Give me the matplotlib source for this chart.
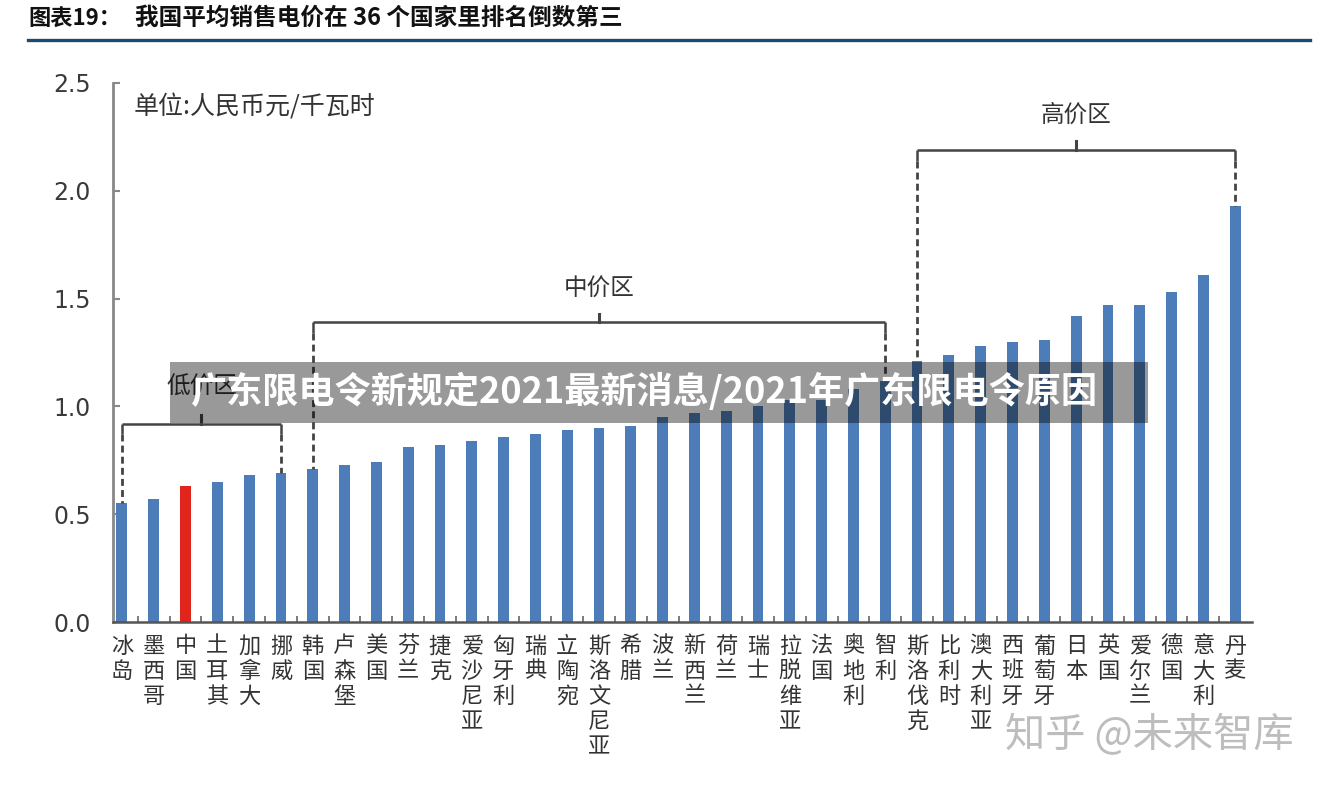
#!/usr/bin/env python3
"""Average electricity price across 36 countries, China third from bottom."""

import matplotlib

matplotlib.use("Agg")
import matplotlib.pyplot as plt
from matplotlib.lines import Line2D
from matplotlib.patches import Rectangle

COUNTRIES = [
    "冰岛", "墨西哥", "中国", "土耳其", "加拿大", "挪威", "韩国", "卢森堡", "美国",
    "芬兰", "捷克", "爱沙尼亚", "匈牙利", "瑞典", "立陶宛", "斯洛文尼亚", "希腊", "波兰",
    "新西兰", "荷兰", "瑞士", "拉脱维亚", "法国", "奥地利", "智利", "斯洛伐克", "比利时",
    "澳大利亚", "西班牙", "葡萄牙", "日本", "英国", "爱尔兰", "德国", "意大利", "丹麦",
]
PRICES = [
    0.55, 0.57, 0.63, 0.65, 0.68, 0.69, 0.71, 0.73, 0.74,
    0.81, 0.82, 0.84, 0.86, 0.87, 0.89, 0.90, 0.91, 0.95,
    0.97, 0.98, 1.00, 1.03, 1.03, 1.08, 1.12, 1.21, 1.24,
    1.28, 1.30, 1.31, 1.42, 1.47, 1.47, 1.53, 1.61, 1.93,
]
HIGHLIGHT = "中国"

# price bands: (label, first bar, last bar, bracket height, label height)
BANDS = [
    ("低价区", 0, 5, 0.92, 1.09),
    ("中价区", 6, 24, 1.39, 1.55),
    ("高价区", 25, 35, 2.19, 2.35),
]
Y_TICKS = [0.0, 0.5, 1.0, 1.5, 2.0, 2.5]

TITLE_NO = "图表19："
TITLE = "我国平均销售电价在 36 个国家里排名倒数第三"
UNIT = "单位:人民币元/千瓦时"
BANNER = "广东限电令新规定2021最新消息/2021年广东限电令原因"
WATERMARK = "知乎 @未来智库"

BLUE = "#4d7db8"
RED = "#e0261c"
INK = "#444444"

W, H = 1321, 786

plt.rcParams["font.family"] = ["Noto Sans CJK SC", "DejaVu Sans"]


def fx(px):
    return px / W


def fy(py):
    return 1 - py / H


def draw_bracket(ax, label, i0, i1, y, label_y):
    kw = dict(color=INK, linewidth=1.8, solid_capstyle="butt")
    ax.plot([i0, i1], [y, y], **kw)
    drop = 0.05
    for i in (i0, i1):
        ax.plot([i, i], [y, y - drop], **kw)
        ax.plot([i, i], [y - drop, PRICES[i]], color=INK, linewidth=2.0,
                linestyle=(0, (2.5, 1.5)))
    mid = (i0 + i1) / 2
    ax.plot([mid, mid], [y, y + 0.04], color=INK, linewidth=2.2)
    ax.text(mid, label_y, label, ha="center", va="center", fontsize=17, color="#333333")


def main():
    fig = plt.figure(figsize=(W / 100, H / 100), dpi=100)
    ax = fig.add_axes([fx(113), fy(622), fx(1252) - fx(113), fy(83) - fy(622)])

    x = list(range(len(COUNTRIES)))
    colors = [RED if c == HIGHLIGHT else BLUE for c in COUNTRIES]
    ax.bar(x, PRICES, width=0.34, color=colors, zorder=2)

    for label, i0, i1, y, ly in BANDS:
        draw_bracket(ax, label, i0, i1, y, ly)

    ax.set_xlim(-0.28, len(COUNTRIES) - 0.47)
    ax.set_ylim(0, 2.5)
    ax.set_yticks(Y_TICKS)
    ax.set_yticklabels([f"{v:.1f}" for v in Y_TICKS], fontsize=17, color="#3a3a3a",
                       family="DejaVu Sans")
    ax.tick_params(axis="y", direction="in", length=5, width=1.5, color="#888888", pad=16)

    ax.set_xticks(x)
    ax.set_xticklabels(["\n".join(c) for c in COUNTRIES], fontsize=16, color="#333333",
                       va="top", linespacing=1.12)
    ax.tick_params(axis="x", length=0, pad=9)
    ax.set_xticks([i + 0.5 for i in x[:-1]], minor=True)
    ax.tick_params(axis="x", which="minor", direction="in", length=4, width=1.2,
                   color="#666666")

    for side in ("top", "right"):
        ax.spines[side].set_visible(False)
    ax.spines["left"].set_color("#888888")
    ax.spines["left"].set_linewidth(2.0)
    ax.spines["bottom"].set_color("#555555")
    ax.spines["bottom"].set_linewidth(1.8)

    ax.text(0.018, 0.955, UNIT, transform=ax.transAxes, fontsize=18, color="#333333",
            va="center")

    # header
    fig.text(fx(28), fy(18), TITLE_NO, fontsize=16, fontweight="bold", va="center",
             color="#111111")
    fig.text(fx(135), fy(18), TITLE, fontsize=17, fontweight="bold", va="center",
             color="#111111")
    fig.add_artist(Line2D([fx(28), fx(1310)], [fy(40), fy(40)], transform=fig.transFigure,
                          color="#1d4a6e", linewidth=2.4))

    # overlaid banner
    fig.add_artist(Rectangle((fx(170), fy(423)), fx(1148) - fx(170), fy(362) - fy(423),
                             transform=fig.transFigure, facecolor="black", alpha=0.4,
                             edgecolor="none", zorder=5))
    fig.text(fx(190), fy(392), BANNER, fontsize=26, fontweight="bold", color="white",
             va="center", zorder=6)

    fig.text(fx(1005), fy(735), WATERMARK, fontsize=29, color="#bdbdbd", va="center",
             zorder=6)

    fig.savefig("out.png", dpi=100)
    plt.close(fig)


if __name__ == "__main__":
    main()
